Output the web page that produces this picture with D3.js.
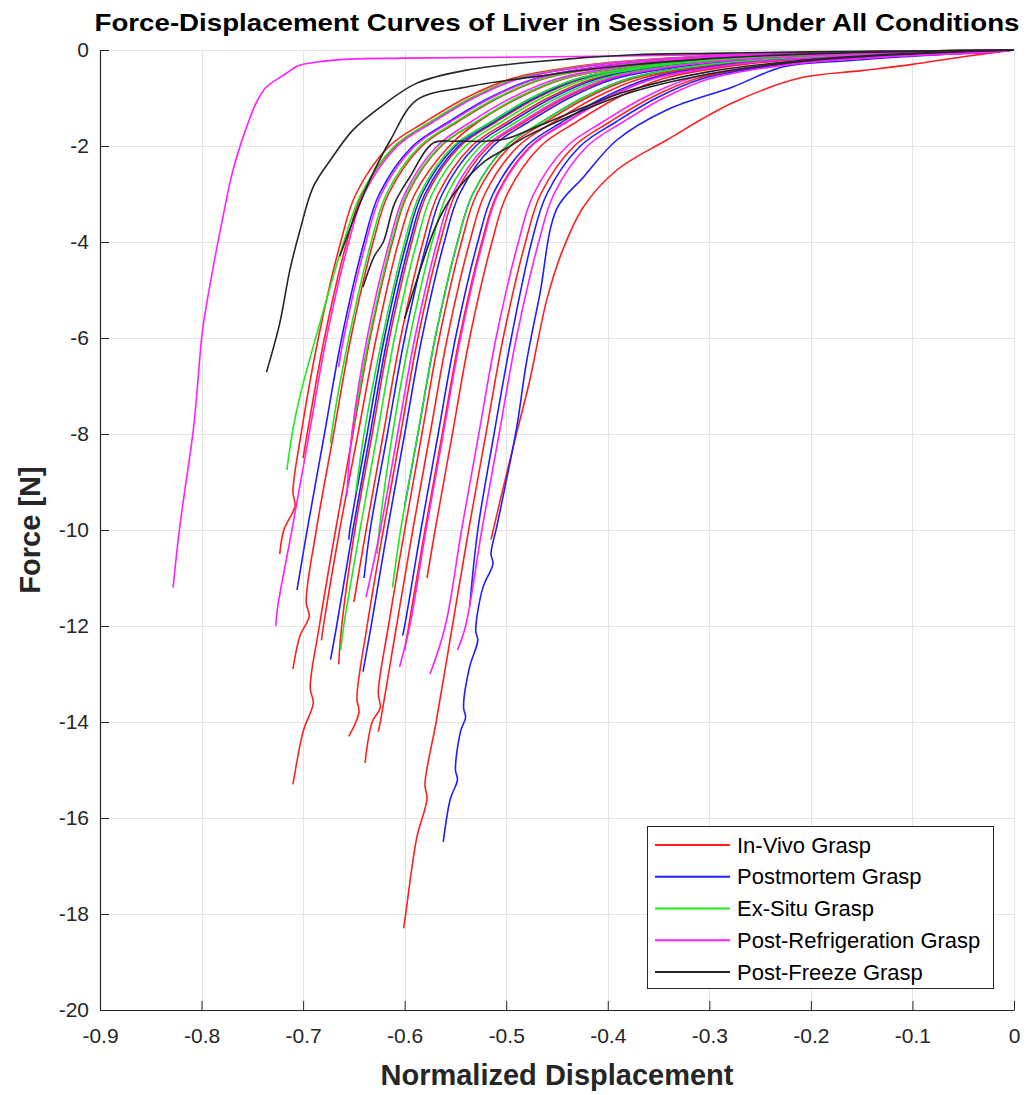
<!DOCTYPE html>
<html>
<head>
<meta charset="utf-8">
<script src="https://cdn.jsdelivr.net/npm/d3@7"></script>
<style>
  html, body { margin: 0; padding: 0; background: #fff; }
  svg { display: block; }
  text { font-family: "Liberation Sans", Arial, Helvetica, sans-serif; fill: #262626; }
</style>
</head>
<body>
<svg id="chart" width="1029" height="1095"></svg>
<script>
// ---------------- DATA ----------------
const chartTitle = "Force-Displacement Curves of Liver in Session 5 Under All Conditions";
const xLabel = "Normalized Displacement";
const yLabel = "Force [N]";
const xTicks = [-0.9, -0.8, -0.7, -0.6, -0.5, -0.4, -0.3, -0.2, -0.1, 0];
const yTicks = [0, -2, -4, -6, -8, -10, -12, -14, -16, -18, -20];
const conditions = ["In-Vivo Grasp", "Postmortem Grasp", "Ex-Situ Grasp", "Post-Refrigeration Grasp", "Post-Freeze Grasp"];

// each curve: [normalized displacement, force N]
const inVivoCurves = [
  [[0,0],[-0.195,-0.05],[-0.325,-0.15],[-0.415,-0.3],[-0.495,-0.6],[-0.54,-1],[-0.58,-1.5],[-0.615,-2],[-0.648,-3],[-0.663,-4],[-0.685,-6],[-0.702,-8],[-0.710,-9.2],[-0.708,-9.5],[-0.719,-10],[-0.723,-10.5]],
  [[0,0],[-0.163,-0.05],[-0.293,-0.15],[-0.383,-0.3],[-0.463,-0.6],[-0.508,-1],[-0.548,-1.5],[-0.583,-2],[-0.616,-3],[-0.631,-4],[-0.653,-6],[-0.670,-8],[-0.687,-10],[-0.697,-11.5],[-0.694,-11.8],[-0.703,-12.2],[-0.710,-12.9]],
  [[0,0],[-0.144,-0.05],[-0.274,-0.15],[-0.364,-0.3],[-0.444,-0.6],[-0.489,-1],[-0.529,-1.5],[-0.564,-2],[-0.597,-3],[-0.612,-4],[-0.634,-6],[-0.651,-8],[-0.668,-10],[-0.684,-12],[-0.693,-13.3],[-0.690,-13.6],[-0.700,-14.2],[-0.710,-15.3]],
  [[0,0],[-0.097,-0.05],[-0.227,-0.15],[-0.317,-0.3],[-0.397,-0.6],[-0.442,-1],[-0.482,-1.5],[-0.517,-2],[-0.55,-3],[-0.565,-4],[-0.587,-6],[-0.604,-8],[-0.621,-10],[-0.637,-12],[-0.647,-13.5],[-0.645,-13.8],[-0.655,-14.3]],
  [[0,0],[-0.076,-0.05],[-0.206,-0.15],[-0.296,-0.3],[-0.376,-0.6],[-0.421,-1],[-0.461,-1.5],[-0.496,-2],[-0.529,-3],[-0.544,-4],[-0.566,-6],[-0.583,-8],[-0.600,-10],[-0.616,-12],[-0.626,-13.4],[-0.624,-13.7],[-0.632,-14],[-0.639,-14.85]],
  [[0,0],[-0.068,-0.05],[-0.198,-0.15],[-0.288,-0.3],[-0.368,-0.6],[-0.413,-1],[-0.453,-1.5],[-0.488,-2],[-0.521,-3],[-0.536,-4],[-0.558,-6],[-0.575,-8],[-0.592,-10],[-0.608,-12],[-0.624,-14],[-0.626,-14.2]],
  [[0,0],[-0.046,-0.05],[-0.176,-0.15],[-0.266,-0.3],[-0.346,-0.6],[-0.391,-1],[-0.431,-1.5],[-0.466,-2],[-0.499,-3],[-0.514,-4],[-0.536,-6],[-0.553,-8],[-0.570,-10],[-0.578,-11]],
  [[0,0],[-0.02,-0.04],[-0.143,-0.15],[-0.233,-0.3],[-0.313,-0.6],[-0.358,-1],[-0.398,-1.5],[-0.433,-2],[-0.466,-3],[-0.481,-4],[-0.503,-6],[-0.520,-8],[-0.537,-10],[-0.553,-12],[-0.569,-14],[-0.58,-15.3],[-0.578,-15.6],[-0.588,-16.4],[-0.599,-18],[-0.601,-18.3]],
  [[0,0],[-0.05,-0.14],[-0.1,-0.3],[-0.15,-0.43],[-0.21,-0.58],[-0.277,-1.1],[-0.342,-1.875],[-0.391,-2.5],[-0.424,-3.27],[-0.445,-4.2],[-0.46,-5.2],[-0.477,-6.9],[-0.49,-8],[-0.505,-9.3],[-0.515,-10.2]],
  [[0,0],[-0.143,-0.05],[-0.273,-0.15],[-0.363,-0.3],[-0.443,-0.6],[-0.488,-1],[-0.528,-1.5],[-0.556,-2],[-0.59,-3],[-0.606,-4],[-0.628,-6],[-0.646,-8],[-0.664,-10],[-0.68,-12],[-0.682,-12.3]],
  [[0,0],[-0.114,-0.05],[-0.244,-0.15],[-0.334,-0.3],[-0.414,-0.6],[-0.459,-1],[-0.499,-1.5],[-0.534,-2],[-0.567,-3],[-0.582,-4],[-0.604,-6],[-0.621,-8],[-0.638,-10],[-0.65,-11.5]],
  [[0,0],[-0.056,-0.05],[-0.186,-0.15],[-0.276,-0.3],[-0.356,-0.6],[-0.401,-1],[-0.441,-1.5],[-0.476,-2],[-0.509,-3],[-0.524,-4],[-0.546,-6],[-0.563,-8],[-0.58,-10],[-0.596,-12],[-0.60,-12.5]],
  [[0,0],[-0.189,-0.05],[-0.319,-0.15],[-0.409,-0.3],[-0.489,-0.6],[-0.534,-1],[-0.574,-1.5],[-0.609,-2],[-0.642,-3],[-0.657,-4],[-0.679,-6],[-0.696,-8],[-0.70,-8.5]],
  [[0,0],[-0.125,-0.05],[-0.255,-0.15],[-0.345,-0.3],[-0.425,-0.6],[-0.47,-1],[-0.51,-1.5],[-0.545,-2],[-0.578,-3],[-0.593,-4],[-0.615,-6],[-0.632,-8],[-0.649,-10],[-0.662,-12],[-0.665,-12.8]]
];
const postmortemCurves = [
  [[0,0],[-0.172,-0.05],[-0.302,-0.15],[-0.392,-0.3],[-0.472,-0.6],[-0.517,-1],[-0.557,-1.5],[-0.592,-2],[-0.625,-3],[-0.64,-4],[-0.662,-6],[-0.679,-8],[-0.696,-10],[-0.706,-11.25]],
  [[0,0],[-0.127,-0.05],[-0.257,-0.15],[-0.347,-0.3],[-0.427,-0.6],[-0.472,-1],[-0.512,-1.5],[-0.547,-2],[-0.58,-3],[-0.595,-4],[-0.617,-6],[-0.634,-8],[-0.651,-10],[-0.667,-12],[-0.673,-12.7]],
  [[0,0],[-0.093,-0.05],[-0.223,-0.15],[-0.313,-0.3],[-0.393,-0.6],[-0.438,-1],[-0.478,-1.5],[-0.513,-2],[-0.546,-3],[-0.561,-4],[-0.583,-6],[-0.6,-8],[-0.617,-10],[-0.633,-12],[-0.641,-12.95]],
  [[0,0],[-0.08,-0.05],[-0.21,-0.15],[-0.30,-0.3],[-0.38,-0.6],[-0.425,-1],[-0.465,-1.5],[-0.50,-2],[-0.533,-3],[-0.548,-4],[-0.57,-6],[-0.587,-8],[-0.60,-9.5]],
  [[0,0],[-0.13,-0.05],[-0.26,-0.15],[-0.35,-0.3],[-0.43,-0.6],[-0.475,-1],[-0.515,-1.5],[-0.55,-2],[-0.583,-3],[-0.598,-4],[-0.62,-6],[-0.637,-8],[-0.654,-10],[-0.655,-10.2]],
  [[0,0],[-0.04,-0.05],[-0.1,-0.13],[-0.16,-0.22],[-0.227,-0.35],[-0.277,-0.77],[-0.342,-1.25],[-0.391,-1.875],[-0.424,-2.65],[-0.45,-3.3],[-0.467,-5.1],[-0.48,-6.5],[-0.49,-7.9],[-0.509,-9.9],[-0.515,-10.5],[-0.513,-10.7],[-0.523,-11.2],[-0.53,-12.1],[-0.528,-12.3],[-0.536,-12.85],[-0.542,-13.7],[-0.54,-13.9],[-0.545,-14.2],[-0.55,-15],[-0.548,-15.2],[-0.555,-15.6],[-0.562,-16.5]],
  [[0,0],[-0.03,-0.05],[-0.137,-0.15],[-0.227,-0.3],[-0.307,-0.6],[-0.352,-1],[-0.392,-1.5],[-0.427,-2],[-0.46,-3],[-0.475,-4],[-0.495,-6],[-0.512,-8],[-0.528,-10],[-0.536,-11.6]],
  [[0,0],[-0.06,-0.05],[-0.19,-0.15],[-0.28,-0.3],[-0.36,-0.6],[-0.405,-1],[-0.445,-1.5],[-0.48,-2],[-0.513,-3],[-0.528,-4],[-0.55,-6],[-0.567,-8],[-0.584,-10],[-0.60,-12],[-0.602,-12.2]],
  [[0,0],[-0.11,-0.05],[-0.24,-0.15],[-0.33,-0.3],[-0.41,-0.6],[-0.455,-1],[-0.495,-1.5],[-0.53,-2],[-0.563,-3],[-0.578,-4],[-0.6,-6],[-0.617,-8],[-0.634,-10],[-0.64,-11]]
];
const exSituCurves = [
  [[0,0],[-0.19,-0.05],[-0.32,-0.15],[-0.41,-0.3],[-0.49,-0.6],[-0.535,-1],[-0.575,-1.5],[-0.61,-2],[-0.643,-3],[-0.66,-4],[-0.685,-5.8],[-0.703,-7.2],[-0.71,-7.9],[-0.716,-8.75]],
  [[0,0],[-0.12,-0.05],[-0.25,-0.15],[-0.34,-0.3],[-0.42,-0.6],[-0.465,-1],[-0.505,-1.5],[-0.54,-2],[-0.573,-3],[-0.588,-4],[-0.61,-6],[-0.627,-8],[-0.644,-10],[-0.66,-12],[-0.663,-12.5]],
  [[0,0],[-0.165,-0.05],[-0.295,-0.15],[-0.385,-0.3],[-0.465,-0.6],[-0.51,-1],[-0.55,-1.5],[-0.585,-2],[-0.618,-3],[-0.633,-4],[-0.655,-6],[-0.672,-8],[-0.673,-8.2]],
  [[0,0],[-0.105,-0.05],[-0.235,-0.15],[-0.325,-0.3],[-0.405,-0.6],[-0.45,-1],[-0.49,-1.5],[-0.525,-2],[-0.558,-3],[-0.573,-4],[-0.595,-6],[-0.612,-8],[-0.625,-10],[-0.627,-10.5]],
  [[0,0],[-0.145,-0.05],[-0.275,-0.15],[-0.365,-0.3],[-0.445,-0.6],[-0.49,-1],[-0.53,-1.5],[-0.565,-2],[-0.598,-3],[-0.613,-4],[-0.635,-6],[-0.652,-8]],
  [[0,0],[-0.08,-0.05],[-0.21,-0.15],[-0.3,-0.3],[-0.38,-0.6],[-0.425,-1],[-0.465,-1.5],[-0.5,-2],[-0.533,-3],[-0.548,-4],[-0.57,-6],[-0.587,-8],[-0.604,-10],[-0.612,-11.2]],
  [[0,0],[-0.13,-0.05],[-0.26,-0.15],[-0.35,-0.3],[-0.43,-0.6],[-0.475,-1],[-0.515,-1.5],[-0.552,-2],[-0.585,-3],[-0.6,-4],[-0.622,-6],[-0.64,-8],[-0.648,-9.2]]
];
const postRefrigerationCurves = [
  [[0,0],[-0.1,-0.03],[-0.3,-0.1],[-0.5,-0.15],[-0.6,-0.17],[-0.654,-0.19],[-0.686,-0.25],[-0.705,-0.33],[-0.716,-0.48],[-0.736,-0.77],[-0.745,-1.05],[-0.753,-1.45],[-0.769,-2.5],[-0.779,-3.48],[-0.789,-4.58],[-0.799,-5.83],[-0.804,-7.0],[-0.808,-7.9],[-0.818,-9.4],[-0.823,-10.2],[-0.828,-11.2]],
  [[0,0],[-0.187,-0.05],[-0.317,-0.15],[-0.407,-0.3],[-0.487,-0.6],[-0.532,-1],[-0.572,-1.5],[-0.607,-2],[-0.64,-3],[-0.655,-4],[-0.677,-6],[-0.694,-8],[-0.711,-10],[-0.725,-11.6],[-0.727,-12]],
  [[0,0],[-0.055,-0.05],[-0.185,-0.15],[-0.275,-0.3],[-0.355,-0.6],[-0.40,-1],[-0.44,-1.5],[-0.475,-2],[-0.508,-3],[-0.523,-4],[-0.545,-6],[-0.562,-8],[-0.579,-10],[-0.595,-12],[-0.605,-12.85]],
  [[0,0],[-0.025,-0.05],[-0.15,-0.15],[-0.24,-0.3],[-0.32,-0.6],[-0.365,-1],[-0.405,-1.5],[-0.44,-2],[-0.473,-3],[-0.488,-4],[-0.51,-6],[-0.527,-8],[-0.544,-10],[-0.56,-12],[-0.575,-13]],
  [[0,0],[-0.17,-0.05],[-0.30,-0.15],[-0.39,-0.3],[-0.47,-0.6],[-0.515,-1],[-0.555,-1.5],[-0.59,-2],[-0.623,-3],[-0.638,-4],[-0.66,-6],[-0.665,-6.6]],
  [[0,0],[-0.10,-0.05],[-0.23,-0.15],[-0.32,-0.3],[-0.40,-0.6],[-0.445,-1],[-0.485,-1.5],[-0.52,-2],[-0.553,-3],[-0.568,-4],[-0.59,-6],[-0.607,-8],[-0.624,-10],[-0.638,-11.4]],
  [[0,0],[-0.02,-0.04],[-0.13,-0.15],[-0.22,-0.3],[-0.30,-0.6],[-0.345,-1],[-0.385,-1.5],[-0.42,-2],[-0.453,-3],[-0.468,-4],[-0.49,-6],[-0.507,-8],[-0.524,-10],[-0.54,-12],[-0.548,-12.5]],
  [[0,0],[-0.15,-0.05],[-0.28,-0.15],[-0.37,-0.3],[-0.45,-0.6],[-0.495,-1],[-0.535,-1.5],[-0.568,-2],[-0.6,-3],[-0.615,-4],[-0.637,-6],[-0.652,-8],[-0.657,-9.3]]
];
const postFreezeCurves = [
  [[0,0],[-0.1,-0.02],[-0.2,-0.04],[-0.3,-0.07],[-0.375,-0.1],[-0.474,-0.25],[-0.539,-0.42],[-0.588,-0.69],[-0.624,-1.19],[-0.651,-1.67],[-0.671,-2.23],[-0.690,-2.85],[-0.703,-3.75],[-0.713,-4.58],[-0.723,-5.69],[-0.736,-6.71]],
  [[0,0],[-0.1,-0.03],[-0.2,-0.08],[-0.3,-0.18],[-0.4,-0.36],[-0.47,-0.55],[-0.539,-0.77],[-0.588,-1.04],[-0.614,-1.875],[-0.631,-2.56],[-0.644,-3.19],[-0.657,-3.9],[-0.664,-4.3]],
  [[0,0],[-0.1,-0.07],[-0.2,-0.2],[-0.3,-0.45],[-0.38,-0.85],[-0.43,-1.25],[-0.47,-1.6],[-0.5,-1.85],[-0.52,-1.9],[-0.55,-1.9],[-0.572,-1.94],[-0.595,-2.65],[-0.61,-3.2],[-0.621,-4.0],[-0.63,-4.3],[-0.641,-4.94]],
  [[0,0],[-0.1,-0.08],[-0.2,-0.22],[-0.3,-0.5],[-0.38,-0.9],[-0.44,-1.4],[-0.48,-1.8],[-0.5,-2.05],[-0.52,-2.3],[-0.54,-2.7],[-0.555,-3.1],[-0.57,-3.7],[-0.585,-4.6],[-0.6,-5.6]]
];
const seriesColors = ["#ff1f1f", "#1f1fff", "#1fe81f", "#ff1fff", "#262626"];

// ---------------- LAYOUT ----------------
const svg = d3.select("#chart");
const plot = { left: 100, right: 1014, top: 50, bottom: 1010 };
const x = d3.scaleLinear().domain([-0.9, 0]).range([plot.left, plot.right]);
const y = d3.scaleLinear().domain([-20, 0]).range([plot.bottom, plot.top]);

// grid
const grid = svg.append("g").attr("stroke", "#e3e3e3").attr("stroke-width", 1);
grid.selectAll("line.vx").data(xTicks).enter().append("line")
  .attr("x1", d => Math.round(x(d)) + 0.5).attr("x2", d => Math.round(x(d)) + 0.5)
  .attr("y1", plot.top).attr("y2", plot.bottom);
grid.selectAll("line.hy").data(yTicks).enter().append("line")
  .attr("x1", plot.left).attr("x2", plot.right)
  .attr("y1", d => Math.round(y(d)) + 0.5).attr("y2", d => Math.round(y(d)) + 0.5);

// curves
const line = d3.line().x(d => x(d[0])).y(d => y(d[1])).curve(d3.curveCatmullRom.alpha(0.5));
const groups = [inVivoCurves, postmortemCurves, exSituCurves, postRefrigerationCurves, postFreezeCurves];
const curvesG = svg.append("g");
groups.forEach((curves, i) => {
  curvesG.append("g").selectAll("path").data(curves).enter().append("path")
    .attr("d", line).attr("fill", "none").attr("stroke", seriesColors[i])
    .attr("stroke-width", 1.6).attr("stroke-linejoin", "round");
});

// axes (MATLAB style: inward ticks, no box)
const xAxis = d3.axisBottom(x).tickValues(xTicks).tickSizeInner(-9).tickSizeOuter(0)
  .tickPadding(18).tickFormat(d => d === 0 ? "0" : d3.format(".1f")(d).replace("−", "-"));
const gx = svg.append("g").attr("transform", `translate(0,${plot.bottom})`).call(xAxis);
const yAxis = d3.axisLeft(y).tickValues(yTicks).tickSizeInner(-9).tickSizeOuter(0)
  .tickPadding(11).tickFormat(d => String(d));
const gy = svg.append("g").attr("transform", `translate(${plot.left},0)`).call(yAxis);
[gx, gy].forEach(g => {
  g.select(".domain").attr("stroke", "#262626").attr("stroke-width", 1.2);
  g.selectAll(".tick line").attr("stroke", "#262626");
  g.selectAll(".tick text").attr("fill", "#262626").style("font-size", "21px")
    .style("font-family", "'Liberation Sans', Arial, sans-serif");
});

// title & labels
svg.append("text").attr("x", 557).attr("y", 31).attr("text-anchor", "middle")
  .attr("textLength", 925).attr("lengthAdjust", "spacingAndGlyphs")
  .style("font-size", "24.5px").style("font-weight", "bold").style("fill", "#000").text(chartTitle);
svg.append("text").attr("x", 557).attr("y", 1085).attr("text-anchor", "middle")
  .style("font-size", "29px").style("font-weight", "bold").style("fill", "#262626").text(xLabel);
svg.append("text").attr("transform", "translate(40,530) rotate(-90)").attr("text-anchor", "middle")
  .style("font-size", "29px").style("font-weight", "bold").style("fill", "#262626").text(yLabel);

// legend
const lg = svg.append("g");
lg.append("rect").attr("x", 647.5).attr("y", 826.5).attr("width", 346).attr("height", 162)
  .attr("fill", "#fff").attr("stroke", "#262626").attr("stroke-width", 1);
const rowY = d3.scaleLinear().domain([0, 4]).range([845, 972]);
conditions.forEach((name, i) => {
  lg.append("line").attr("x1", 655).attr("x2", 730).attr("y1", rowY(i)).attr("y2", rowY(i))
    .attr("stroke", seriesColors[i]).attr("stroke-width", 1.8);
  lg.append("text").attr("x", 737).attr("y", rowY(i) + 7.5).style("font-size", "22px")
    .style("fill", "#000").text(name);
});
</script>
</body>
</html>
